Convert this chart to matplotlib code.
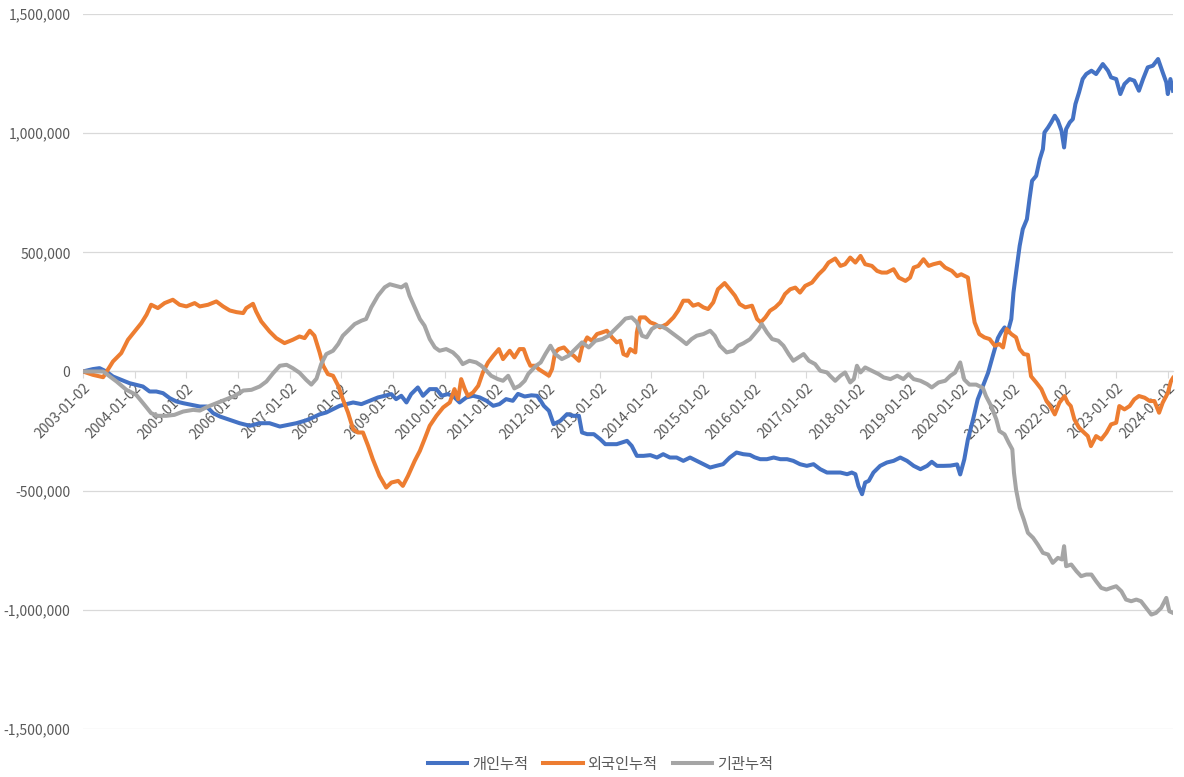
import datetime as dt

import matplotlib
matplotlib.use('Agg')
import matplotlib.pyplot as plt
import matplotlib.dates as mdates
from matplotlib.ticker import FuncFormatter, MultipleLocator

plt.rcParams['font.family'] = ['Noto Sans CJK KR', 'DejaVu Sans']

# time points are fractional years, values are in thousands
personal_t = [
    2003.00, 2003.19, 2003.32, 2003.45, 2003.58, 2003.74, 2003.90, 2004.03, 2004.16, 2004.29,
    2004.42, 2004.55, 2004.68, 2004.81, 2004.94, 2005.10, 2005.26, 2005.39, 2005.52, 2005.65,
    2005.84, 2006.03, 2006.23, 2006.42, 2006.61, 2006.81, 2006.97, 2007.13, 2007.32, 2007.45,
    2007.58, 2007.71, 2007.84, 2007.97, 2008.10, 2008.23, 2008.39, 2008.55, 2008.71, 2008.84,
    2008.97, 2009.06, 2009.16, 2009.26, 2009.35, 2009.48, 2009.58, 2009.71, 2009.84, 2009.94,
    2010.06, 2010.16, 2010.29, 2010.42, 2010.55, 2010.68, 2010.81, 2010.94, 2011.06, 2011.19,
    2011.32, 2011.42, 2011.55, 2011.68, 2011.79, 2011.86, 2011.92, 2012.02, 2012.11, 2012.24,
    2012.37, 2012.50, 2012.60, 2012.66, 2012.76, 2012.89, 2013.01, 2013.11, 2013.21, 2013.33,
    2013.43, 2013.53, 2013.62, 2013.72, 2013.85, 2013.98, 2014.11, 2014.23, 2014.36, 2014.49,
    2014.62, 2014.75, 2014.88, 2015.01, 2015.14, 2015.26, 2015.39, 2015.52, 2015.65, 2015.78,
    2015.91, 2016.00, 2016.11, 2016.24, 2016.37, 2016.50, 2016.63, 2016.75, 2016.88, 2017.01,
    2017.14, 2017.27, 2017.40, 2017.53, 2017.66, 2017.79, 2017.88, 2017.95, 2018.01, 2018.08,
    2018.14, 2018.21, 2018.30, 2018.43, 2018.56, 2018.69, 2018.82, 2018.95, 2019.08, 2019.21,
    2019.34, 2019.43, 2019.53, 2019.66, 2019.79, 2019.92, 2019.98, 2020.06, 2020.13, 2020.23,
    2020.32, 2020.42, 2020.52, 2020.61, 2020.71, 2020.77, 2020.84, 2020.90, 2020.97, 2021.01,
    2021.06, 2021.13, 2021.19, 2021.27, 2021.32, 2021.37, 2021.45, 2021.52, 2021.58, 2021.61,
    2021.68, 2021.74, 2021.81, 2021.87, 2021.94, 2021.99, 2022.03, 2022.10, 2022.16, 2022.21,
    2022.28, 2022.35, 2022.42, 2022.52, 2022.61, 2022.74, 2022.84, 2022.90, 2023.00, 2023.08,
    2023.16, 2023.26, 2023.35, 2023.44, 2023.52, 2023.61, 2023.71, 2023.81, 2023.90, 2023.97,
    2024.00, 2024.05, 2024.10,
]
personal_v = [
    0, 10, 14, 0, -21, -35, -49, -56, -63, -84,
    -84, -91, -112, -126, -133, -140, -147, -147, -175, -189,
    -203, -217, -228, -217, -217, -231, -224, -217, -205, -193,
    -180, -172, -158, -144, -137, -130, -137, -123, -109, -102,
    -95, -116, -102, -130, -95, -67, -102, -74, -74, -102,
    -95, -102, -130, -109, -102, -109, -123, -144, -137, -116,
    -123, -94, -105, -100, -102, -123, -144, -165, -221, -207,
    -179, -186, -186, -256, -263, -263, -284, -305, -305, -305,
    -298, -291, -312, -354, -354, -351, -361, -347, -361, -361,
    -375, -361, -375, -389, -403, -396, -389, -361, -340, -347,
    -350, -360, -368, -368, -361, -368, -368, -375, -389, -396,
    -389, -410, -424, -424, -424, -431, -424, -431, -480, -515,
    -466, -459, -424, -396, -382, -375, -361, -375, -396, -410,
    -396, -379, -396, -396, -395, -390, -432, -369, -285, -201,
    -117, -62, -6, 64, 140, 164, 185, 164, 220, 331,
    415, 527, 597, 639, 723, 800, 821, 891, 933, 1003,
    1024, 1045, 1073, 1052, 1010, 940, 1017, 1045, 1059, 1122,
    1171, 1227, 1248, 1262, 1248, 1290, 1262, 1234, 1227, 1164,
    1206, 1227, 1220, 1178, 1227, 1276, 1283, 1311, 1255, 1213,
    1164, 1227, 1178,
]

foreign_t = [
    2003.00, 2003.19, 2003.39, 2003.48, 2003.58, 2003.74, 2003.87, 2004.00, 2004.13, 2004.23,
    2004.32, 2004.45, 2004.58, 2004.74, 2004.87, 2005.00, 2005.16, 2005.26, 2005.42, 2005.58,
    2005.71, 2005.84, 2005.97, 2006.10, 2006.16, 2006.29, 2006.35, 2006.45, 2006.61, 2006.74,
    2006.90, 2007.06, 2007.19, 2007.29, 2007.39, 2007.48, 2007.58, 2007.65, 2007.74, 2007.84,
    2007.94, 2008.03, 2008.13, 2008.23, 2008.32, 2008.42, 2008.52, 2008.61, 2008.74, 2008.87,
    2008.97, 2009.10, 2009.19, 2009.29, 2009.42, 2009.52, 2009.61, 2009.71, 2009.84, 2009.97,
    2010.10, 2010.19, 2010.26, 2010.32, 2010.39, 2010.45, 2010.55, 2010.65, 2010.74, 2010.84,
    2010.94, 2011.05, 2011.13, 2011.26, 2011.35, 2011.45, 2011.53, 2011.60, 2011.66, 2011.76,
    2011.82, 2011.92, 2012.02, 2012.08, 2012.14, 2012.21, 2012.31, 2012.40, 2012.50, 2012.60,
    2012.66, 2012.76, 2012.85, 2012.95, 2013.05, 2013.14, 2013.24, 2013.33, 2013.40, 2013.46,
    2013.53, 2013.59, 2013.69, 2013.72, 2013.78, 2013.88, 2013.98, 2014.07, 2014.17, 2014.30,
    2014.43, 2014.52, 2014.62, 2014.72, 2014.81, 2014.91, 2015.01, 2015.10, 2015.20, 2015.29,
    2015.42, 2015.52, 2015.62, 2015.71, 2015.82, 2015.95, 2016.05, 2016.12, 2016.21, 2016.30,
    2016.40, 2016.50, 2016.59, 2016.69, 2016.79, 2016.88, 2016.98, 2017.11, 2017.24, 2017.34,
    2017.43, 2017.56, 2017.66, 2017.75, 2017.85, 2017.95, 2018.05, 2018.14, 2018.27, 2018.37,
    2018.46, 2018.56, 2018.69, 2018.79, 2018.92, 2019.01, 2019.08, 2019.17, 2019.27, 2019.37,
    2019.46, 2019.59, 2019.69, 2019.82, 2019.92, 2020.00, 2020.13, 2020.19, 2020.26, 2020.35,
    2020.45, 2020.55, 2020.65, 2020.74, 2020.81, 2020.88, 2020.97, 2021.06, 2021.13, 2021.21,
    2021.29, 2021.35, 2021.45, 2021.55, 2021.65, 2021.72, 2021.81, 2021.90, 2022.00, 2022.06,
    2022.12, 2022.19, 2022.28, 2022.38, 2022.45, 2022.51, 2022.61, 2022.71, 2022.81, 2022.90,
    2023.00, 2023.06, 2023.16, 2023.26, 2023.35, 2023.44, 2023.55, 2023.65, 2023.74, 2023.83,
    2023.90, 2024.00, 2024.06, 2024.10,
]
foreign_v = [
    0, -14, -24, 7, 42, 77, 133, 168, 203, 238,
    280, 266, 287, 301, 280, 273, 287, 273, 280, 294,
    273, 256, 249, 245, 266, 284, 252, 210, 168, 140,
    119, 133, 147, 140, 171, 150, 80, 24, -11, -18,
    -60, -116, -172, -242, -256, -256, -312, -368, -438, -487,
    -466, -459, -480, -438, -375, -333, -284, -228, -186, -151,
    -130, -74, -116, -32, -74, -102, -88, -60, -4, 38,
    66, 94, 52, 87, 59, 94, 94, 52, 24, 24,
    10, -4, -18, 10, 80, 94, 101, 80, 66, 45,
    101, 143, 129, 157, 164, 171, 143, 122, 129, 73,
    66, 94, 80, 164, 227, 227, 206, 199, 185, 199,
    227, 255, 297, 297, 276, 283, 269, 262, 290, 345,
    371, 345, 318, 283, 269, 276, 220, 206, 227, 255,
    269, 290, 325, 345, 352, 331, 359, 373, 408, 429,
    457, 474, 443, 450, 478, 457, 485, 450, 443, 422,
    415, 415, 429, 394, 380, 394, 436, 443, 471, 443,
    450, 457, 436, 422, 400, 408, 394, 300, 206, 157,
    143, 136, 108, 115, 101, 178, 157, 143, 94, 73,
    70, -20, -46, -74, -124, -145, -180, -131, -103, -131,
    -145, -201, -236, -257, -271, -313, -271, -285, -257, -222,
    -215, -145, -159, -145, -117, -103, -110, -124, -124, -173,
    -131, -90, -41, -27,
]

institution_t = [
    2003.00, 2003.19, 2003.39, 2003.52, 2003.65, 2003.84, 2004.03, 2004.19, 2004.32, 2004.45,
    2004.61, 2004.77, 2004.94, 2005.13, 2005.26, 2005.42, 2005.58, 2005.77, 2005.94, 2006.10,
    2006.26, 2006.42, 2006.55, 2006.68, 2006.81, 2006.94, 2007.06, 2007.19, 2007.32, 2007.42,
    2007.52, 2007.61, 2007.71, 2007.84, 2007.94, 2008.03, 2008.13, 2008.26, 2008.39, 2008.48,
    2008.58, 2008.71, 2008.84, 2008.94, 2009.06, 2009.16, 2009.25, 2009.32, 2009.42, 2009.52,
    2009.61, 2009.71, 2009.81, 2009.90, 2010.03, 2010.16, 2010.26, 2010.35, 2010.48, 2010.61,
    2010.71, 2010.81, 2010.90, 2011.03, 2011.13, 2011.23, 2011.35, 2011.45, 2011.55, 2011.62,
    2011.77, 2011.86, 2011.95, 2012.05, 2012.14, 2012.27, 2012.40, 2012.53, 2012.66, 2012.79,
    2012.92, 2013.05, 2013.17, 2013.30, 2013.40, 2013.50, 2013.62, 2013.72, 2013.82, 2013.91,
    2014.01, 2014.11, 2014.20, 2014.30, 2014.43, 2014.56, 2014.68, 2014.78, 2014.88, 2015.01,
    2015.14, 2015.23, 2015.33, 2015.46, 2015.59, 2015.68, 2015.78, 2015.91, 2016.01, 2016.08,
    2016.14, 2016.24, 2016.34, 2016.46, 2016.56, 2016.66, 2016.75, 2016.85, 2016.95, 2017.05,
    2017.17, 2017.27, 2017.40, 2017.46, 2017.56, 2017.66, 2017.75, 2017.85, 2017.92, 2017.98,
    2018.05, 2018.14, 2018.27, 2018.40, 2018.50, 2018.63, 2018.76, 2018.88, 2018.98, 2019.08,
    2019.21, 2019.34, 2019.43, 2019.56, 2019.69, 2019.79, 2019.88, 2019.98, 2020.06, 2020.16,
    2020.29, 2020.42, 2020.48, 2020.58, 2020.68, 2020.74, 2020.84, 2020.92, 2020.99, 2021.02,
    2021.06, 2021.13, 2021.21, 2021.29, 2021.39, 2021.48, 2021.58, 2021.68, 2021.77, 2021.87,
    2021.95, 2021.99, 2022.03, 2022.13, 2022.23, 2022.32, 2022.42, 2022.52, 2022.61, 2022.71,
    2022.81, 2022.90, 2023.00, 2023.10, 2023.19, 2023.29, 2023.39, 2023.48, 2023.58, 2023.68,
    2023.77, 2023.87, 2023.97, 2024.03, 2024.10,
]
institution_v = [
    0, 0, 0, -21, -42, -77, -98, -140, -175, -186,
    -186, -182, -168, -161, -164, -147, -133, -116, -102, -80,
    -77, -63, -42, -7, 24, 28, 14, -5, -35, -55,
    -30, 31, 73, 87, 115, 150, 171, 199, 213, 220,
    269, 318, 353, 366, 359, 353, 366, 318, 269, 220,
    192, 136, 101, 87, 94, 80, 59, 31, 45, 38,
    24, 3, -18, -32, -39, -18, -71, -60, -39, -10,
    24, 38, 73, 108, 73, 52, 66, 94, 122, 101,
    129, 136, 150, 178, 199, 222, 227, 206, 150, 143,
    178, 192, 189, 178, 157, 136, 115, 136, 150, 157,
    171, 150, 108, 80, 87, 108, 118, 135, 160, 178,
    199, 164, 136, 129, 108, 73, 45, 59, 73, 45,
    31, 3, -4, -18, -39, -18, -4, -46, -32, 24,
    -4, 17, 3, -11, -25, -32, -18, -32, -11, -32,
    -39, -53, -67, -46, -39, -18, -5, 38, -34, -55,
    -55, -69, -103, -145, -201, -250, -264, -299, -327, -425,
    -495, -572, -621, -677, -698, -726, -761, -768, -803, -782,
    -789, -733, -817, -810, -838, -859, -852, -852, -880, -908,
    -915, -908, -901, -922, -957, -964, -957, -964, -992, -1020,
    -1013, -992, -950, -1006, -1013,
]

series_names = ['개인누적', '외국인누적', '기관누적']
series_colors = ['#4472C4', '#ED7D31', '#A5A5A5']
tick_years = list(range(2003, 2025))


def to_dates(years):
    out = []
    for y in years:
        base = dt.datetime(int(y), 1, 2)
        out.append(base + dt.timedelta(days=(y - int(y)) * 365.25))
    return out


fig = plt.figure(figsize=(11.84, 7.77), dpi=100)
ax = fig.add_axes([0.0701, 0.0618, 0.9206, 0.9202])

data = [(personal_t, personal_v), (foreign_t, foreign_v), (institution_t, institution_v)]
for (t, v), name, color in zip(data, series_names, series_colors):
    ax.plot(to_dates(t), [x * 1000 for x in v], color=color, lw=2.9, label=name,
            solid_joinstyle='round', zorder=3)

ax.set_ylim(-1500000, 1500000)
ax.yaxis.set_major_locator(MultipleLocator(500000))
ax.yaxis.set_major_formatter(FuncFormatter(lambda x, p: f'{int(x):,}'))
ax.set_xlim(to_dates([2003.0])[0], to_dates([2024.10])[0])

ticks = [dt.datetime(y, 1, 2) for y in tick_years]
ax.set_xticks(ticks)
ax.xaxis.set_major_formatter(mdates.DateFormatter('%Y-%m-%d'))

ax.grid(axis='y', color='#D9D9D9', lw=0.9, zorder=0)
for s in ['top', 'right', 'left']:
    ax.spines[s].set_visible(False)
ax.spines['bottom'].set_position(('data', 0))
ax.spines['bottom'].set_color('#D9D9D9')
ax.spines['bottom'].set_linewidth(0.9)

ax.tick_params(axis='y', length=0, labelsize=10, labelcolor='#595959', pad=9)
ax.tick_params(axis='x', length=5, color='#D9D9D9', labelsize=10, labelcolor='#595959', pad=2)
for lab in ax.get_xticklabels():
    lab.set_rotation(45)
    lab.set_ha('right')
    lab.set_va('top')
    lab.set_rotation_mode('anchor')

leg = fig.legend(loc='lower center', bbox_to_anchor=(0.507, -0.012), ncol=3, frameon=False,
                 fontsize=11, handlelength=2.6, columnspacing=1.0, handletextpad=0.3)
for txt in leg.get_texts():
    txt.set_color('#595959')

fig.savefig('out.png', dpi=100)
